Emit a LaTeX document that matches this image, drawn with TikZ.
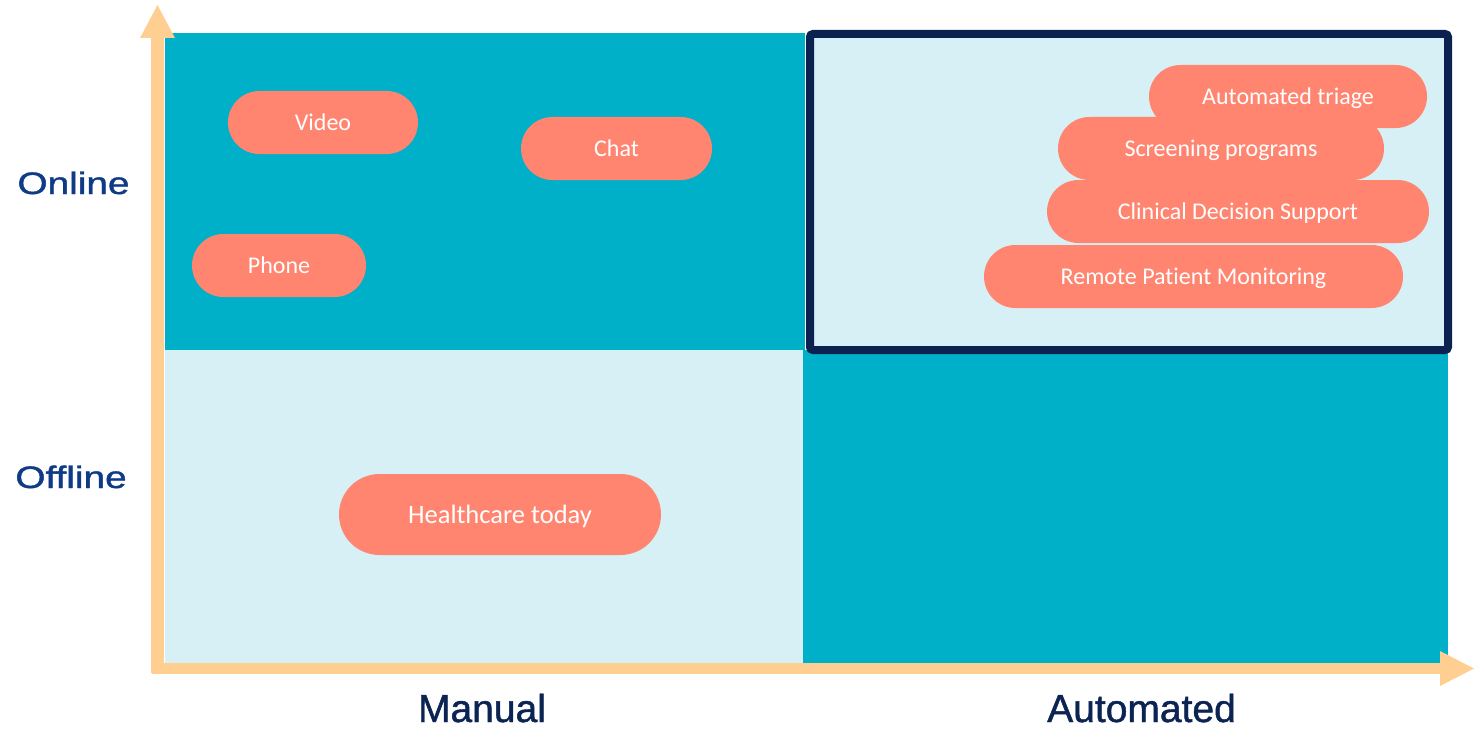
\documentclass[tikz,border=0pt]{standalone}
\usepackage{fontspec}
\setmainfont{Liberation Sans}
\newfontfamily\pillfont[Ligatures=NoCommon]{Carlito}
\newfontfamily\lblfont[FakeBold=1.2]{Liberation Sans}
\definecolor{qdark}{HTML}{00AFC8}
\definecolor{qlight}{HTML}{D7F0F5}
\definecolor{pillc}{HTML}{FF8570}
\definecolor{axisc}{HTML}{FFCF92}
\definecolor{navyb}{HTML}{0B2250}
\definecolor{lblon}{HTML}{0F3A86}
\definecolor{lblman}{HTML}{0C2453}
\tikzset{
  pillbox/.style={fill=pillc, text=white, rounded corners=31.5bp, minimum height=63bp,
    inner sep=0pt, font=\pillfont\fontsize{24bp}{28bp}\selectfont,
    text height=15.4bp, text depth=0pt},
  bigpill/.style={pillbox, rounded corners=40.5bp, minimum height=81bp,
    font=\pillfont\fontsize{26.5bp}{32bp}\selectfont, text height=17.1bp},
  ylabel/.style={anchor=base, text=lblon, font=\lblfont\fontsize{31bp}{36bp}\selectfont},
  xlabel/.style={anchor=base, text=lblman, font=\lblfont\fontsize{39bp}{46bp}\selectfont},
}
\begin{document}
\begin{tikzpicture}[x=1bp,y=-1bp]
\useasboundingbox (0,0) rectangle (1474,729);
% quadrants
\fill[qdark] (165,33) rectangle (805,350);
\fill[qlight] (806,33) rectangle (1448,350);
\fill[qlight] (165,350) rectangle (803,663);
\fill[qdark] (803,350) rectangle (1448,663);
\draw[navyb, line width=8bp, rounded corners=3bp] (810,34) rectangle (1448,350);
% axes
\fill[axisc] (151,37) rectangle (164,673);
\fill[axisc] (140,38) -- (157.5,5) -- (175,38) -- cycle;
\fill[axisc] (152,663) rectangle (1441,674);
\fill[axisc] (1440,651) -- (1474,668.5) -- (1440,686) -- cycle;
% pills
\node[pillbox, minimum width=190bp] (video) at (323,122.5) {Video};
\node[pillbox, minimum width=191bp] (chat) at (616.5,148.5) {Chat};
\node[pillbox, minimum width=174bp] (phone) at (279,265.5) {Phone};
\node[bigpill, minimum width=322bp] (today) at (500,514.5) {Healthcare today};
\node[pillbox, minimum width=278bp] (triage) at (1288,96.5) {Automated triage};
\node[pillbox, minimum width=326bp] (screen) at (1221,148.5) {Screening programs};
\node[pillbox, minimum width=382bp] (cds) at (1238,211.5) {Clinical Decision Support};
\node[pillbox, minimum width=419bp] (rpm) at (1193.5,276.5) {Remote Patient Monitoring};
% labels
\node[ylabel] (online) at (73.5,194) {\scalebox{1.25}[1]{Online}};
\node[ylabel] (offline) at (71,488) {\scalebox{1.25}[1]{Offline}};
\node[xlabel] (manual) at (482,722) {Manual};
\node[xlabel] (auto) at (1141.5,722) {Automated};
\end{tikzpicture}
\end{document}
